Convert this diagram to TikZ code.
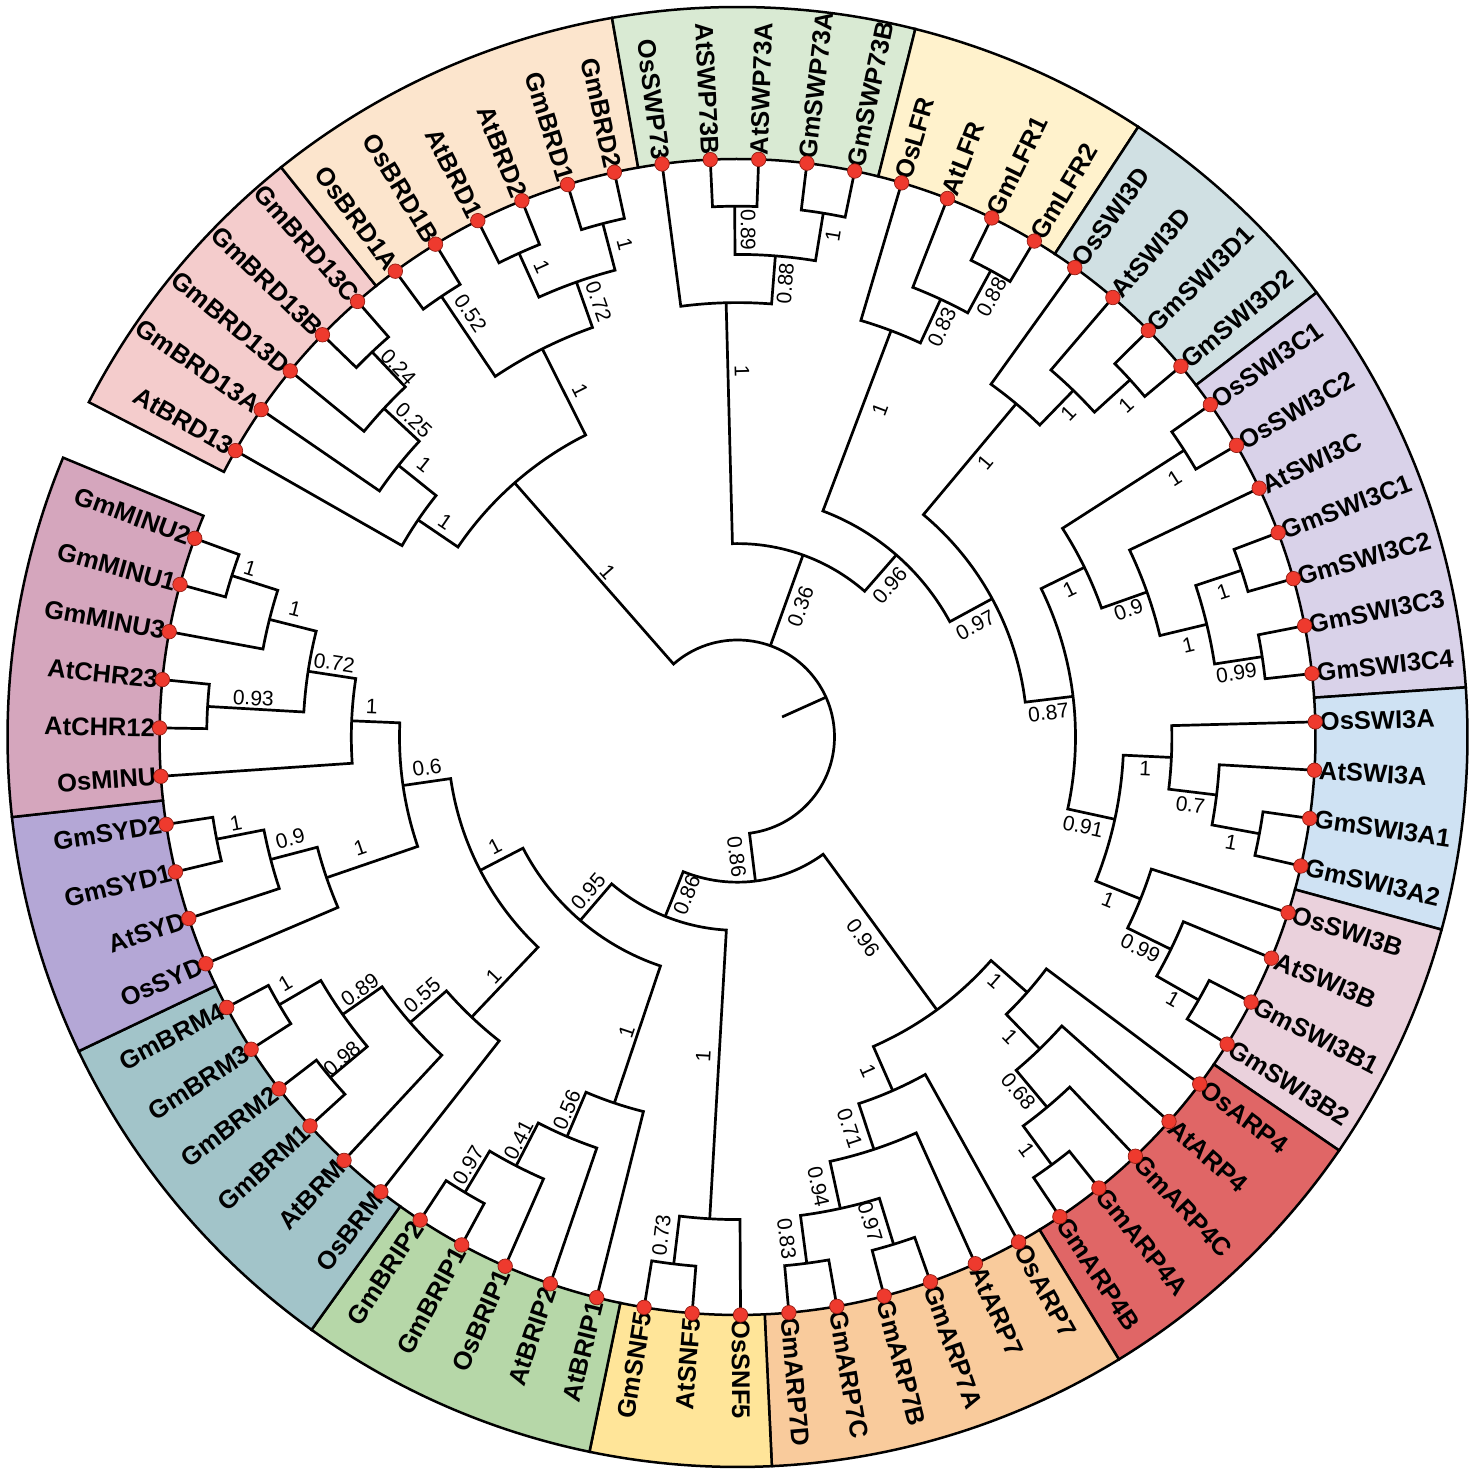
\documentclass[tikz,border=0pt]{standalone}
\usepackage{fontspec}
\setmainfont{Liberation Sans}
\definecolor{dotred}{RGB}{238,58,46}
\definecolor{dotedge}{RGB}{150,30,20}
\definecolor{cBRDt}{HTML}{F4CCCC}
\definecolor{cBRDo}{HTML}{FCE5CD}
\definecolor{cSWP}{HTML}{D9EAD3}
\definecolor{cLFR}{HTML}{FFF2CC}
\definecolor{cSD}{HTML}{D0E0E3}
\definecolor{cSC}{HTML}{D9D2E9}
\definecolor{cSA}{HTML}{CFE2F3}
\definecolor{cSB}{HTML}{EAD1DC}
\definecolor{cARPf}{HTML}{E06666}
\definecolor{cARPs}{HTML}{F9CB9C}
\definecolor{cSNF}{HTML}{FFE599}
\definecolor{cBRIP}{HTML}{B6D7A8}
\definecolor{cBRM}{HTML}{A2C4C9}
\definecolor{cSYD}{HTML}{B4A7D6}
\definecolor{cMINU}{HTML}{D5A6BD}
% clade: radius, angle child1, radius child1, angle child2, radius child2
\newcommand\cl[5]{\draw[br] (#2:#3) -- (#2:#1) arc[start angle=#2, end angle=#4, radius=#1pt] -- (#4:#5);}
% sector: start angle, end angle, colour
\newcommand\sect[3]{\draw[sec, fill=#3] (#1:578) arc[start angle=#1, end angle=#2, radius=578pt] -- (#2:730) arc[start angle=#2, end angle=#1, radius=730pt] -- cycle;}
\begin{document}
\begin{tikzpicture}[x=1pt,y=1pt,
  br/.style={line width=2.7pt, line join=miter},
  sec/.style={line width=2.5pt, draw=black},
  dot/.style={circle, fill=dotred, draw=dotedge, line width=0.7pt, minimum size=14.5pt, inner sep=0pt},
  leafR/.style={anchor=west, inner sep=0pt, font=\fontsize{25.5}{25.5}\selectfont\bfseries},
  leafL/.style={anchor=east, inner sep=0pt, font=\fontsize{25.5}{25.5}\selectfont\bfseries},
  bsl/.style={inner sep=0pt, font=\fontsize{21}{21}\selectfont}]
\useasboundingbox (0,0) rectangle (1476,1472);
\begin{scope}[shift={(737.5,735)}]
% ---------- coloured ranges ----------
\sect{152.7}{128.7}{cBRDt}
\sect{128.7}{99.9}{cBRDo}
\sect{99.9}{75.9}{cSWP}
\sect{75.9}{56.7}{cLFR}
\sect{56.7}{37.5}{cSD}
\sect{37.5}{3.9}{cSC}
\sect{3.9}{-15.3}{cSA}
\sect{-15.3}{-34.5}{cSB}
\sect{-34.5}{-58.5}{cARPf}
\sect{-58.5}{-87.3}{cARPs}
\sect{-87.3}{-101.7}{cSNF}
\sect{-101.7}{-125.7}{cBRIP}
\sect{-125.7}{-154.5}{cBRM}
\sect{-154.5}{-173.7}{cSYD}
\sect{-173.7}{-202.5}{cMINU}
% ---------- tree ----------
% root
\draw[br] (131.25:338) -- (131.25:97) arc[start angle=131.25, end angle=-82.9, radius=97pt] -- (-82.9:145.2);
\draw[br] (70.2:97) -- (70.2:193.4);
\draw[br] (24.2:48.9) -- (24.2:97);
% BRD
\cl{338}{145.8}{386.2}{116.7}{434.4}
\cl{386.2}{150.3}{578}{141.3}{434.4}
\cl{434.4}{145.5}{578}{137.1}{482.6}
\cl{482.6}{140.7}{578}{133.5}{530.8}
\cl{530.8}{135.9}{578}{131.1}{578}
\cl{434.4}{123.9}{530.8}{109.5}{482.6}
\cl{530.8}{126.3}{578}{121.5}{578}
\cl{482.6}{114.3}{530.8}{104.7}{530.8}
\cl{530.8}{116.7}{578}{111.9}{578}
\cl{530.8}{107.1}{578}{102.3}{578}
% upper right
\cl{193.4}{91.5}{434.4}{48.9}{241.6}
\cl{434.4}{97.5}{578}{85.5}{482.6}
\cl{482.6}{90.3}{530.8}{80.7}{530.8}
\cl{530.8}{92.7}{578}{87.9}{578}
\cl{530.8}{83.1}{578}{78.3}{578}
\cl{241.6}{69.3}{434.4}{28.5}{289.8}
\cl{434.4}{73.5}{578}{65.1}{482.6}
\cl{482.6}{68.7}{578}{61.5}{530.8}
\cl{530.8}{63.9}{578}{59.1}{578}
\cl{289.8}{50.1}{434.4}{6.9}{338}
\cl{434.4}{54.3}{578}{45.9}{482.6}
\cl{482.6}{49.5}{578}{42.3}{530.8}
\cl{530.8}{44.7}{578}{39.9}{578}
\cl{338}{26.05}{386.2}{-12.3}{386.2}
\cl{386.2}{32.7}{530.8}{19.5}{434.4}
\cl{530.8}{35.1}{578}{30.3}{578}
\cl{434.4}{25.5}{578}{13.5}{482.6}
\cl{482.6}{18.3}{530.8}{8.7}{530.8}
\cl{530.8}{20.7}{578}{15.9}{578}
\cl{530.8}{11.1}{578}{6.3}{578}
\cl{386.2}{-2.7}{434.4}{-21.9}{434.4}
\cl{434.4}{1.5}{578}{-6.9}{482.6}
\cl{482.6}{-3.3}{578}{-10.5}{530.8}
\cl{530.8}{-8.1}{578}{-12.9}{578}
\cl{434.4}{-17.7}{578}{-26.1}{482.6}
\cl{482.6}{-22.5}{578}{-29.7}{530.8}
\cl{530.8}{-27.3}{578}{-32.1}{578}
% bottom
\cl{145.2}{-53.85}{338}{-111.95}{193.4}
\cl{338}{-41.4}{386.2}{-66.3}{386.2}
\cl{386.2}{-36.9}{578}{-45.9}{434.4}
\cl{434.4}{-41.7}{578}{-50.1}{482.6}
\cl{482.6}{-46.5}{578}{-53.7}{530.8}
\cl{530.8}{-51.3}{578}{-56.1}{578}
\cl{386.2}{-60.9}{578}{-71.7}{434.4}
\cl{434.4}{-65.7}{578}{-77.7}{482.6}
\cl{482.6}{-72.9}{530.8}{-82.5}{530.8}
\cl{530.8}{-80.1}{578}{-84.9}{578}
\cl{530.8}{-70.5}{578}{-75.3}{578}
\cl{193.4}{-93.3}{482.6}{-130.6}{241.6}
\cl{482.6}{-89.7}{578}{-96.9}{530.8}
\cl{530.8}{-94.5}{578}{-99.3}{578}
\cl{241.6}{-108.6}{386.2}{-152.6}{289.8}
\cl{386.2}{-104.1}{578}{-113.1}{434.4}
\cl{434.4}{-108.9}{578}{-117.3}{482.6}
\cl{482.6}{-113.7}{578}{-120.9}{530.8}
\cl{530.8}{-118.5}{578}{-123.3}{578}
\cl{289.8}{-133.5}{386.2}{-171.75}{338}
\cl{338}{-161.1}{434.4}{-182.4}{386.2}
\cl{386.2}{-176.1}{578}{-188.7}{434.4}
\cl{434.4}{-183.3}{530.8}{-194.1}{482.6}
\cl{482.6}{-190.5}{578}{-197.7}{530.8}
\cl{530.8}{-180.9}{578}{-185.7}{578}
\cl{530.8}{-195.3}{578}{-200.1}{578}
\cl{434.4}{-156.9}{578}{-165.3}{482.6}
\cl{482.6}{-161.7}{578}{-168.9}{530.8}
\cl{530.8}{-166.5}{578}{-171.3}{578}
\cl{386.2}{-128.1}{578}{-138.9}{434.4}
\cl{434.4}{-132.9}{578}{-144.9}{482.6}
\cl{482.6}{-140.1}{530.8}{-149.7}{530.8}
\cl{530.8}{-147.3}{578}{-152.1}{578}
\cl{530.8}{-137.7}{578}{-142.5}{578}
% ---------- bootstrap values ----------
\foreach \rot/\a/\r/\t in {
 -48.75/128.2/210/1, -34.2/143.6/363/1, -38.7/139/415/1, -42.9/135.6/453/0.25, -46.5/132.5/502/0.24,
 -63.3/114.4/381/1, -56.1/122.2/501/0.52, -70.5/107.7/457/0.72, -65.7/112.6/509/1, -75.3/102.9/505/1,
 70.2/64.2/145/0.36, -88.5/89.3/366/1, 85.5/84.0/456/0.88, -89.7/88.8/507/0.89, 80.7/79.2/510/1,
 48.9/44.9/215/0.96, 69.3/66.5/357/1, 65.1/63.5/458/0.83, 61.5/60.0/508/0.88,
 28.5/25.2/263/0.97, 50.1/48.0/370/1, 45.9/44.4/463/1, 42.3/40.5/511/1,
 6.9/4.5/312/0.87, 26.05/23.9/363/1, 32.7/30.6/508/1, 19.5/18.0/411/0.9, 13.5/11.5/460/1,
 18.3/16.65/507/1, 8.7/7.3/503/0.99,
 -12.3/-14.5/357/0.91, -2.7/-4.4/409/1, -6.9/-8.5/458/0.7, -10.5/-12.1/505/1,
 -21.9/-23.7/405/1, -26.1/-27.7/455/0.99, -29.7/-31/508/1,
 -82.9/-90.4/120/0.86, -53.85/-58/237/0.96, -41.4/-43.5/355/1, -45.9/-47.7/405/1,
 -50.1/-51.6/452/0.68, -53.7/-55.0/504/1, -66.3/-68.65/359/1, -71.7/-74/407/0.71,
 -77.7/-79.8/457/0.94, -82.5/-84.4/504/0.83, -72.9/-74.7/502.5/0.97,
 68.05/-107.8/166/0.86, 86.7/-96.1/321.5/1, 83.1/-98.7/504/0.73, 49.4/-134/215/0.95,
 71.4/-110.6/315/1, 66.9/-114.6/410/0.56, 62.7/-118.5/459/0.41, 59.1/-122.2/505.6/0.97,
 27.4/-155.7/266/1, 8.25/-174.4/312/0.6, -2.4/-184.7/367/1, -8.7/-190.4/410/0.72,
 -14.1/-196.2/460.8/1, -3.3/-184.6/485.7/0.93, -17.7/-199.1/515.9/1,
 18.9/-163.6/393.6/1, 14.7/-167.2/458.8/0.9, 11.1/-170.2/508.9/1,
 46.5/-135.5/342/1, 41.1/-140.7/407.8/0.55, 35.1/-146.2/454.4/0.89, 30.3/-151.4/515/1,
 39.9/-140.9/509.8/0.98}
  \node[bsl, rotate=\rot] at (\a:\r) {\t};
% ---------- leaf labels ----------
\foreach \a/\n in {87.9/AtSWP73A, 83.1/GmSWP73A, 78.3/GmSWP73B, 73.5/OsLFR, 68.7/AtLFR,
 63.9/GmLFR1, 59.1/GmLFR2, 54.3/OsSWI3D, 49.5/AtSWI3D, 44.7/GmSWI3D1, 39.9/GmSWI3D2,
 35.1/OsSWI3C1, 30.3/OsSWI3C2, 25.5/AtSWI3C, 20.7/GmSWI3C1, 15.9/GmSWI3C2, 11.1/GmSWI3C3,
 6.3/GmSWI3C4, 1.5/OsSWI3A, -3.3/AtSWI3A, -8.1/GmSWI3A1, -12.9/GmSWI3A2, -17.7/OsSWI3B,
 -22.5/AtSWI3B, -27.3/GmSWI3B1, -32.1/GmSWI3B2, -36.9/OsARP4, -41.7/AtARP4, -46.5/GmARP4C,
 -51.3/GmARP4A, -56.1/GmARP4B, -60.9/OsARP7, -65.7/AtARP7, -70.5/GmARP7A, -75.3/GmARP7B,
 -80.1/GmARP7C, -84.9/GmARP7D, -89.7/OsSNF5}
  \node[leafR, rotate=\a] at (\a:582.5) {\n};
\foreach \a/\n in {97.5/OsSWP73, 92.7/AtSWP73B, -94.5/AtSNF5, -99.3/GmSNF5, -104.1/AtBRIP1,
 -108.9/AtBRIP2, -113.7/OsBRIP1, -118.5/GmBRIP1, -123.3/GmBRIP2, -128.1/OsBRM, -132.9/AtBRM,
 -137.7/GmBRM1, -142.5/GmBRM2, -147.3/GmBRM3, -152.1/GmBRM4, -156.9/OsSYD, -161.7/AtSYD,
 -166.5/GmSYD1, -171.3/GmSYD2, -176.1/OsMINU, -180.9/AtCHR12, -185.7/AtCHR23, -190.5/GmMINU3,
 -195.3/GmMINU1, -200.1/GmMINU2, 150.3/AtBRD13, 145.5/GmBRD13A, 140.7/GmBRD13D, 135.9/GmBRD13B,
 131.1/GmBRD13C, 126.3/OsBRD1A, 121.5/OsBRD1B, 116.7/AtBRD1, 111.9/AtBRD2, 107.1/GmBRD1,
 102.3/GmBRD2}
  \node[leafL, rotate=\a+180] at (\a:582.5) {\n};
% ---------- leaf dots ----------
\foreach \k in {1,...,63,65,66,...,75}
  \node[dot] (leaf\k) at ({97.5-4.8*(\k-1)}:578) {};
\end{scope}
\end{tikzpicture}
\end{document}
